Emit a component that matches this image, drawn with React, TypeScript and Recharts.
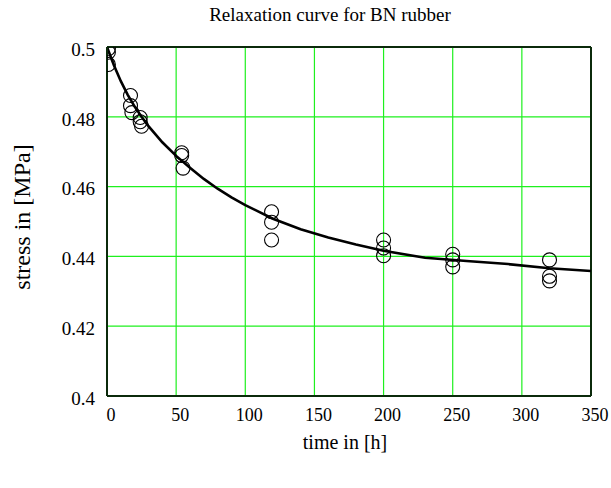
import React from 'react';
import { ComposedChart, Line, Scatter, XAxis, YAxis, CartesianGrid, ReferenceLine } from 'recharts';

// measured points (time in h, stress in MPa)
const measTime = [1, 1, 1, 17, 17, 18, 24, 24, 25, 54, 54, 55, 119, 119, 119, 200, 200, 200, 250, 250, 250, 320, 320, 320];
const measStress = [0.4995, 0.4985, 0.495, 0.4861, 0.4832, 0.4812, 0.4798, 0.4786, 0.4773, 0.4697, 0.4689, 0.4653, 0.4528, 0.4498, 0.4447, 0.4447, 0.4424, 0.4402, 0.4406, 0.4390, 0.4370, 0.4390, 0.4343, 0.4330];

// fitted relaxation curve
const fitTime = [0, 5, 10, 15, 20, 25, 30, 40, 50, 60, 70, 80, 90, 100, 120, 140, 160, 180, 200, 230, 260, 290, 320, 350];
const fitStress = [0.5, 0.4948, 0.4902, 0.4863, 0.4829, 0.48, 0.4773, 0.4727, 0.4688, 0.4654, 0.4622, 0.4594, 0.4569, 0.4547, 0.4508, 0.4478, 0.4454, 0.4434, 0.4416, 0.4396, 0.4387, 0.4378, 0.4366, 0.4358];

const xTicks = [0, 50, 100, 150, 200, 250, 300, 350];
const yTicks = [0.4, 0.42, 0.44, 0.46, 0.48, 0.5];

const FONT = '"Liberation Serif", "DejaVu Serif", serif';
const GRID = '#1ef01e';
const FRAME = '#0b2a0b';

const measData = measTime.map((t, i) => ({ t, s: measStress[i] }));
const fitData = fitTime.map((t, i) => ({ t, s: fitStress[i] }));

const Ring = (props: any) => (
  <circle cx={props.cx} cy={props.cy} r={7} fill="none" stroke="#000" strokeWidth={1.1} />
);

export default function App() {
  return (
    <div style={{ position: 'absolute', left: 0, top: 0, width: 611, height: 488, background: '#fff', fontFamily: FONT }}>
      <div
        style={{
          position: 'absolute', left: 330, top: 15, fontSize: 19, color: '#000', whiteSpace: 'nowrap',
          transform: 'translate(-50%, -50%)',
        }}
      >
        Relaxation curve for BN rubber
      </div>
      <div
        style={{
          position: 'absolute', left: 22, top: 217, fontSize: 24, color: '#000', whiteSpace: 'nowrap',
          transform: 'translate(-50%, -50%) rotate(-90deg)',
        }}
      >
        stress in [MPa]
      </div>
      <div
        style={{
          position: 'absolute', left: 345, top: 442, fontSize: 20, color: '#000', whiteSpace: 'nowrap',
          transform: 'translate(-50%, -50%)',
        }}
      >
        time in [h]
      </div>
      <ComposedChart width={611} height={488} margin={{ top: 47, right: 20, bottom: 0, left: 0 }}>
        <CartesianGrid stroke={GRID} strokeWidth={1.2} />
        <XAxis
          dataKey="t"
          type="number"
          domain={[0, 350]}
          ticks={xTicks}
          allowDataOverflow
          height={92}
          tickLine={false}
          axisLine={{ stroke: FRAME, strokeWidth: 2 }}
          tick={{ fill: '#000', fontSize: 18, fontFamily: FONT, dx: 4 }}
          tickMargin={6}
        />
        <YAxis
          dataKey="s"
          type="number"
          domain={[0.4, 0.5]}
          ticks={yTicks}
          allowDataOverflow
          width={107}
          tickLine={false}
          axisLine={{ stroke: FRAME, strokeWidth: 2 }}
          tick={{ fill: '#000', fontSize: 19, fontFamily: FONT, dy: 2 }}
          tickMargin={6}
          tickFormatter={(v: number) => String(Number(v.toFixed(2)))}
        />
        <ReferenceLine y={0.5} stroke={FRAME} strokeWidth={2} />
        <ReferenceLine x={350} stroke={FRAME} strokeWidth={2} />
        <Line
          data={fitData}
          dataKey="s"
          type="linear"
          stroke="#000"
          strokeWidth={2.6}
          dot={false}
          activeDot={false}
          isAnimationActive={false}
        />
        <Scatter data={measData} dataKey="s" shape={Ring} isAnimationActive={false} />
      </ComposedChart>
    </div>
  );
}
